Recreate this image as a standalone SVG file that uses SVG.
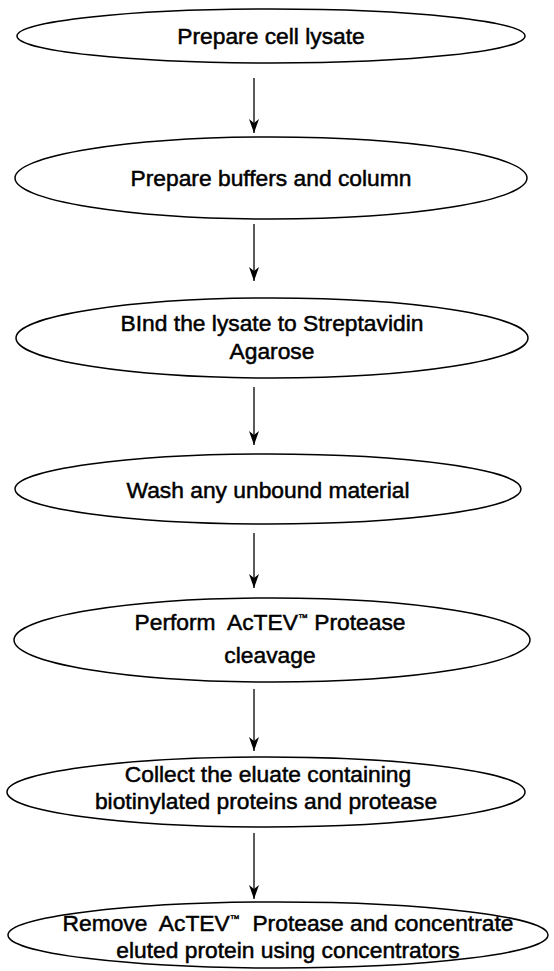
<svg xmlns="http://www.w3.org/2000/svg" width="554" height="971" viewBox="0 0 554 971">
<style>
.n ellipse{fill:#fff;stroke:#000;stroke-width:1.5}
.n text{font-family:"Liberation Sans",Arial,sans-serif;font-size:22.8px;fill:#000;text-anchor:middle;stroke:#000;stroke-width:0.5}
.c line{stroke:#000;stroke-width:1.3}
.tm{font-size:10px;stroke-width:0.4}
</style>
<defs>
<marker id="ah" markerWidth="16" markerHeight="12" refX="15" refY="6" orient="auto" markerUnits="userSpaceOnUse" viewBox="0 0 16 12">
<path d="M15,6 L1,1 L5,6 L1,11 Z" fill="#000"/>
</marker>
</defs>
<rect width="554" height="971" fill="#fff"/>
<g id="n1" class="n"><ellipse cx="271" cy="36" rx="254" ry="27"/><text x="271" y="44">Prepare cell lysate</text></g>
<g id="n2" class="n"><ellipse cx="271" cy="178" rx="256" ry="41"/><text x="271" y="186">Prepare buffers and column</text></g>
<g id="n3" class="n"><ellipse cx="272" cy="338" rx="256" ry="40"/><text x="272" y="331">BInd the lysate to Streptavidin</text><text x="272" y="359">Agarose</text></g>
<g id="n4" class="n"><ellipse cx="268" cy="489" rx="253" ry="35"/><text x="268" y="498">Wash any unbound material</text></g>
<g id="n5" class="n"><ellipse cx="272" cy="640" rx="258" ry="42"/><text x="270" y="630" xml:space="preserve">Perform  AcTEV<tspan class="tm" dy="-9">™</tspan><tspan dy="9"> Protease</tspan></text><text x="270" y="663">cleavage</text></g>
<g id="n6" class="n"><ellipse cx="266" cy="792" rx="259" ry="35"/><text x="268" y="782">Collect the eluate containing</text><text x="266" y="809">biotinylated proteins and protease</text></g>
<g id="n7" class="n"><ellipse cx="278" cy="935" rx="270" ry="33"/><text x="288" y="931" xml:space="preserve">Remove  AcTEV<tspan class="tm" dy="-9">™</tspan><tspan dy="9">  Protease and concentrate</tspan></text><text x="288" y="958">eluted protein using concentrators</text></g>
<g id="connectors" class="c">
<line x1="254" y1="78" x2="254" y2="133" marker-end="url(#ah)"/>
<line x1="254" y1="224" x2="254" y2="281" marker-end="url(#ah)"/>
<line x1="254" y1="387" x2="254" y2="445" marker-end="url(#ah)"/>
<line x1="254" y1="533" x2="254" y2="588" marker-end="url(#ah)"/>
<line x1="254" y1="689" x2="254" y2="751" marker-end="url(#ah)"/>
<line x1="254" y1="833" x2="254" y2="899" marker-end="url(#ah)"/>
</g>
</svg>
